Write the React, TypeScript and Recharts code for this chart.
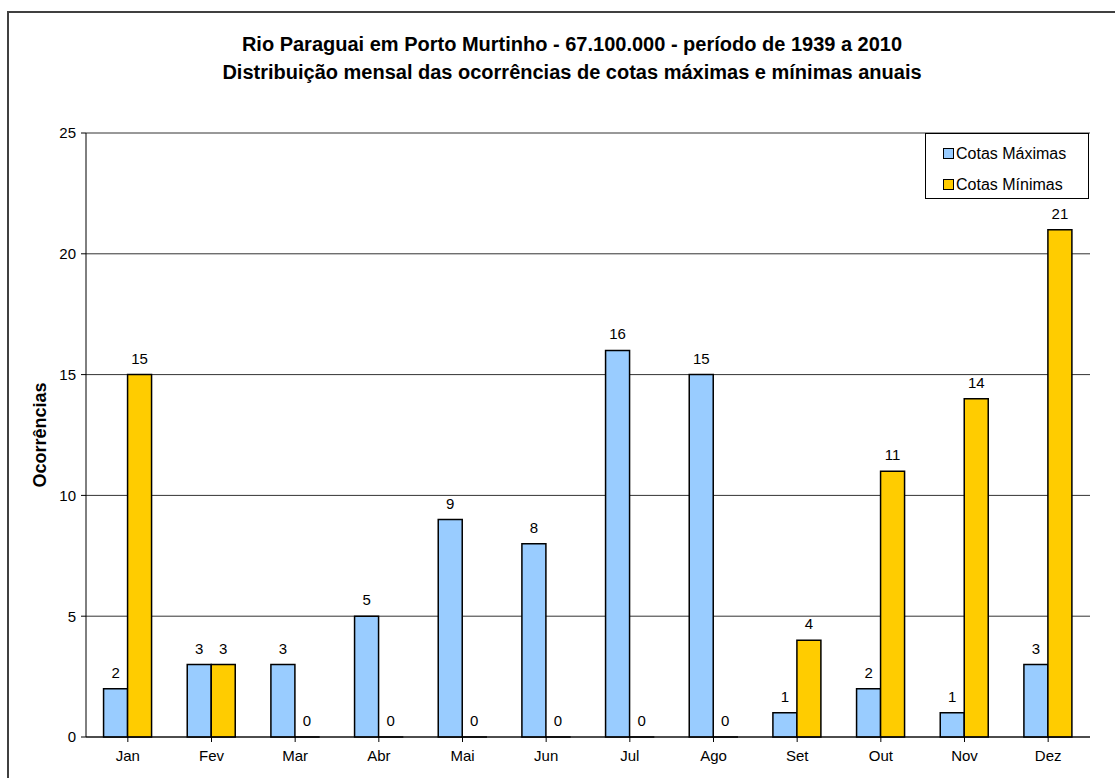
import {
  Bar,
  BarChart,
  CartesianGrid,
  LabelList,
  XAxis,
  YAxis,
} from "recharts";

const months = ["Jan", "Fev", "Mar", "Abr", "Mai", "Jun", "Jul", "Ago", "Set", "Out", "Nov", "Dez"];
const cotasMaximas = [2, 3, 3, 5, 9, 8, 16, 15, 1, 2, 1, 3];
const cotasMinimas = [15, 3, 0, 0, 0, 0, 0, 0, 4, 11, 14, 21];
const yTicks = [0, 5, 10, 15, 20, 25];

const data = months.map((m, i) => ({
  month: m,
  max: cotasMaximas[i],
  min: cotasMinimas[i],
}));

const font = "Arial, 'Liberation Sans', sans-serif";

function BarValue(props: any) {
  const { x, y, width, value } = props;
  return (
    <text
      x={Number(x) + Number(width) / 2}
      y={Number(y) - 11}
      textAnchor="middle"
      fontFamily={font}
      fontSize={15}
      fill="#000"
    >
      {value}
    </text>
  );
}

function LegendBox() {
  const items = [
    { label: "Cotas Máximas", color: "#99ccff" },
    { label: "Cotas Mínimas", color: "#ffcc00" },
  ];
  return (
    <div
      style={{
        position: "absolute",
        left: 925,
        top: 133,
        width: 164,
        height: 66,
        border: "1px solid #000",
        background: "#fff",
        fontFamily: font,
        fontSize: 16,
        boxSizing: "border-box",
        paddingTop: 4,
        paddingLeft: 17,
      }}
    >
      {items.map((it) => (
        <div key={it.label} style={{ display: "flex", alignItems: "center", height: 31 }}>
          <span
            style={{
              width: 9,
              height: 9,
              background: it.color,
              border: "1.5px solid #000",
              marginRight: 2,
              display: "inline-block",
            }}
          />
          <span>{it.label}</span>
        </div>
      ))}
    </div>
  );
}

export default function App() {
  return (
    <div
      style={{
        position: "absolute",
        left: 0,
        top: 0,
        width: 1115,
        height: 778,
        overflow: "hidden",
        background: "#fff",
      }}
    >
      <div
        style={{
          position: "absolute",
          left: 7,
          top: 11,
          width: 1120,
          height: 800,
          border: "2px solid #404040",
          boxSizing: "border-box",
        }}
      />
      <div
        style={{
          position: "absolute",
          left: 0,
          top: 30,
          width: 1144,
          textAlign: "center",
          fontFamily: font,
          fontWeight: "bold",
          fontSize: 20,
          lineHeight: "28px",
          color: "#000",
        }}
      >
        <div>Rio Paraguai em Porto Murtinho - 67.100.000 - período de 1939 a 2010</div>
        <div>Distribuição mensal das ocorrências de cotas máximas e mínimas anuais</div>
      </div>
      <div style={{ position: "absolute", left: 0, top: 0 }}>
        <BarChart
          width={1115}
          height={778}
          data={data}
          margin={{ top: 133, right: 25, bottom: 11, left: 26 }}
          barCategoryGap="21%"
          barGap={0}
        >
          <CartesianGrid horizontal vertical={false} stroke="#333" strokeWidth={1} />
          <XAxis
            dataKey="month"
            height={30}
            tickLine={{ stroke: "#000" }}
            axisLine={{ stroke: "#000" }}
            tickSize={5}
            interval={0}
            tick={{ fontFamily: font, fontSize: 15, fill: "#000", dy: 6 }}
          />
          <XAxis
            dataKey="month"
            xAxisId="top"
            orientation="top"
            height={0}
            tick={false}
            tickLine={false}
            axisLine={{ stroke: "#999" }}
          />
          <YAxis
            width={60}
            domain={[0, 25]}
            ticks={yTicks}
            tickSize={5}
            tickLine={{ stroke: "#000" }}
            axisLine={{ stroke: "#000" }}
            tick={{ fontFamily: font, fontSize: 15, fill: "#000", dx: -3 }}
            label={{
              value: "Ocorrências",
              angle: -90,
              position: "insideLeft",
              offset: 14,
              style: { fontFamily: font, fontSize: 18, fontWeight: "bold", fill: "#000", textAnchor: "middle" },
            }}
          />
          <YAxis
            yAxisId="right"
            orientation="right"
            width={0}
            domain={[0, 25]}
            tick={false}
            tickLine={false}
            axisLine={{ stroke: "#999" }}
          />
          <Bar
            dataKey="max"
            name="Cotas Máximas"
            fill="#99ccff"
            stroke="#000"
            strokeWidth={1.5}
            minPointSize={0.01}
            isAnimationActive={false}
          >
            <LabelList dataKey="max" content={BarValue} />
          </Bar>
          <Bar
            dataKey="min"
            name="Cotas Mínimas"
            fill="#ffcc00"
            stroke="#000"
            strokeWidth={1.5}
            minPointSize={0.01}
            isAnimationActive={false}
          >
            <LabelList dataKey="min" content={BarValue} />
          </Bar>
        </BarChart>
      </div>
      <LegendBox />
    </div>
  );
}
